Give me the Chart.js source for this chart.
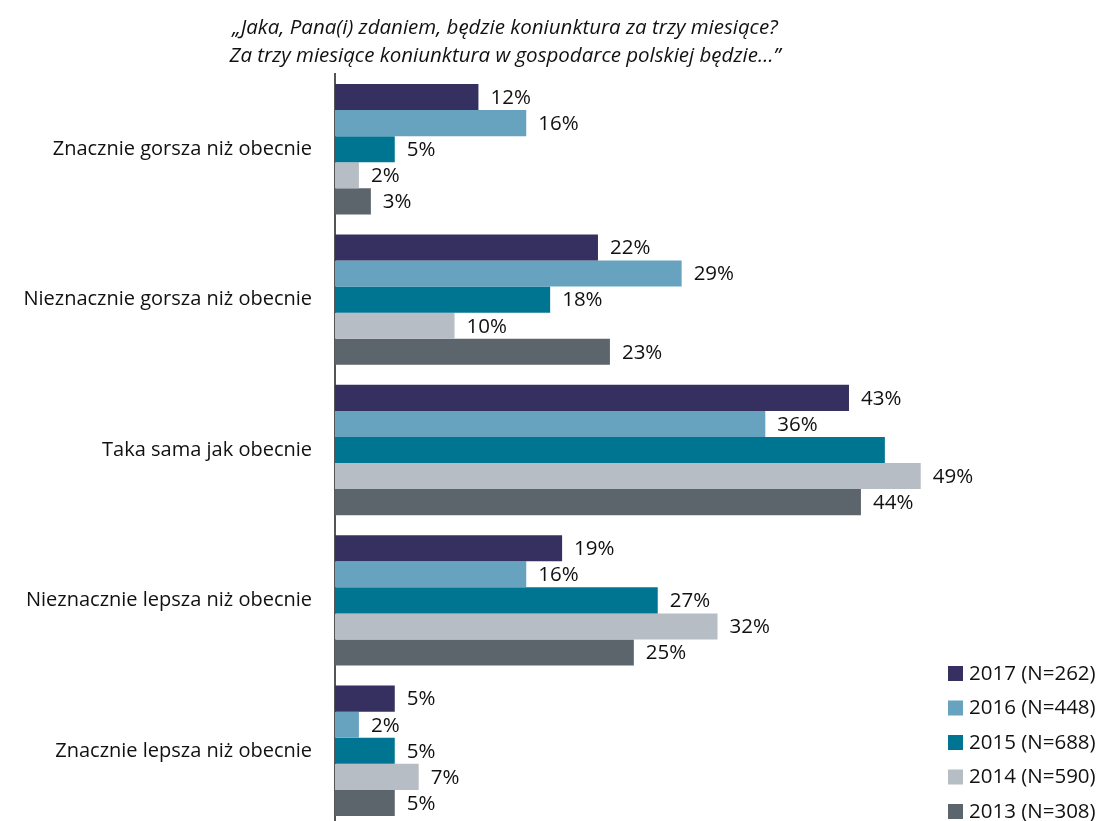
<!DOCTYPE html>
<html>
<head>
<meta charset="utf-8">
<script src="https://cdn.jsdelivr.net/npm/chart.js@4/dist/chart.umd.min.js"></script>
<style>
  html, body { margin: 0; padding: 0; background: #fff; overflow: hidden; }
</style>
</head>
<body>
<canvas id="chart" width="1104" height="830"></canvas>
<script>
const categories = [
  "Znacznie gorsza niż obecnie",
  "Nieznacznie gorsza niż obecnie",
  "Taka sama jak obecnie",
  "Nieznacznie lepsza niż obecnie",
  "Znacznie lepsza niż obecnie"
];

const seriesNames = ["2017 (N=262)", "2016 (N=448)", "2015 (N=688)", "2014 (N=590)", "2013 (N=308)"];
const colors = ["#35305f", "#67a3bf", "#007591", "#b7bdc4", "#5c646c"];

const v2017 = [12, 22, 43, 19, 5];
const v2016 = [16, 29, 36, 16, 2];
const v2015 = [5, 18, 46, 27, 5];
const v2014 = [2, 10, 49, 32, 7];
const v2013 = [3, 23, 44, 25, 5];

// the source shows no label on this bar
const hiddenLabels = ["2-2"];

const titleLines = [
  "\u201EJaka, Pana(i) zdaniem, będzie koniunktura za trzy miesiące?",
  "Za trzy miesiące koniunktura w gospodarce polskiej będzie\u2026\u201D"
];

const allValues = [v2017, v2016, v2015, v2014, v2013];

const datasets = allValues.map((vals, i) => ({
  label: seriesNames[i],
  data: vals,
  backgroundColor: colors[i],
  borderWidth: 0,
  barPercentage: 1,
  categoryPercentage: 0.867
}));

const FONT = "'Open Sans', sans-serif";

const extras = {
  id: "extras",
  afterDatasetsDraw(c) {
    const ctx = c.ctx;
    ctx.save();
    // value labels
    ctx.font = "20.5px " + FONT;
    ctx.fillStyle = "#111";
    ctx.textAlign = "left";
    ctx.textBaseline = "middle";
    c.data.datasets.forEach((ds, di) => {
      c.getDatasetMeta(di).data.forEach((bar, i) => {
        if (hiddenLabels.includes(i + "-" + di)) return;
        ctx.fillText(ds.data[i] + "%", bar.x + 12, bar.y + 1);
      });
    });
    // title
    ctx.font = "italic 20.5px " + FONT;
    ctx.textAlign = "center";
    ctx.fillText(titleLines[0], 505, 28);
    ctx.fillText(titleLines[1], 505, 56);
    // legend
    ctx.font = "20.5px " + FONT;
    ctx.textAlign = "left";
    seriesNames.forEach((name, i) => {
      const y = 673 + i * 34.5;
      ctx.fillStyle = colors[i];
      ctx.fillRect(948, y - 7, 15, 15);
      ctx.fillStyle = "#111";
      ctx.fillText(name, 969, y + 1);
    });
    ctx.restore();
  }
};

new Chart(document.getElementById("chart"), {
  type: "bar",
  data: { labels: categories, datasets },
  plugins: [extras],
  options: {
    indexAxis: "y",
    responsive: false,
    animation: false,
    layout: { padding: { top: 74, bottom: 4, left: 0, right: 4 } },
    plugins: {
      legend: { display: false },
      title: { display: false },
      tooltip: { enabled: false }
    },
    scales: {
      x: {
        display: false,
        min: 0,
        max: 64
      },
      y: {
        afterFit: s => {
          s.width = 335;
          s.paddingTop = 0;
          s.paddingBottom = 0;
        },
        grid: { display: false, drawTicks: false },
        border: { display: true, color: "#555", width: 2 },
        ticks: {
          color: "#111",
          padding: 23,
          font: { family: FONT, size: 20 }
        }
      }
    }
  }
});
</script>
</body>
</html>
